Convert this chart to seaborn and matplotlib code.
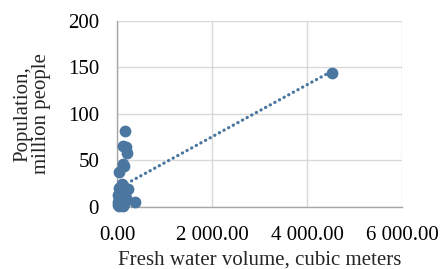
import matplotlib
matplotlib.use("Agg")
import matplotlib.pyplot as plt
import seaborn as sns
import pandas as pd
from matplotlib.ticker import FuncFormatter

# Data
water = [4520, 168, 133, 190, 204, 120, 154, 49, 238, 379,
         10, 20, 35, 50, 65, 80, 95, 110, 140, 160, 30, 60, 45, 15, 75, 125, 180, 100]
population = [144, 82, 66, 65, 58, 46, 44, 38, 19, 5,
              2, 5, 10, 15, 18, 22, 12, 8, 3, 16, 1, 7, 20, 13, 4, 1, 10, 25]
x_ticks = [0, 2000, 4000, 6000]
y_ticks = [0, 50, 100, 150, 200]

df = pd.DataFrame({"water": water, "population": population})

sns.set_theme(style="white")
plt.rcParams["font.family"] = ["Liberation Serif", "DejaVu Serif"]

color = "#4a76a0"
fig = plt.figure(figsize=(4.42, 2.69), dpi=100)
ax = fig.add_axes([0.265, 0.2305, 0.6445, 0.6915])

sns.regplot(data=df, x="water", y="population", ax=ax, ci=None, color=color,
            scatter_kws={"s": 72, "alpha": 1, "linewidths": 0, "clip_on": False, "zorder": 3},
            line_kws={"linestyle": (0, (0.1, 1.55)), "linewidth": 2.3,
                      "dash_capstyle": "round", "zorder": 2})

ax.set_xlim(0, 6000)
ax.set_ylim(0, 200)
ax.set_xticks(x_ticks)
ax.set_yticks(y_ticks)
ax.xaxis.set_major_formatter(FuncFormatter(lambda v, p: f"{v:,.2f}".replace(",", " ")))
ax.grid(True, color="#d9d9d9", linewidth=1.0)
ax.set_axisbelow(True)
for s in ["top", "right"]:
    ax.spines[s].set_visible(False)
for s in ["left", "bottom"]:
    ax.spines[s].set_color("#a6a6a6")
    ax.spines[s].set_linewidth(1.0)
ax.tick_params(axis="both", length=0, labelsize=15, colors="black")
ax.tick_params(axis="x", pad=14)
ax.tick_params(axis="y", pad=13)
ax.set_xlabel("Fresh water volume, cubic meters", fontsize=15, labelpad=4)
ax.set_ylabel("Population,\nmillion people", fontsize=15, labelpad=12, linespacing=0.95)

fig.savefig("out.png", dpi=100)
